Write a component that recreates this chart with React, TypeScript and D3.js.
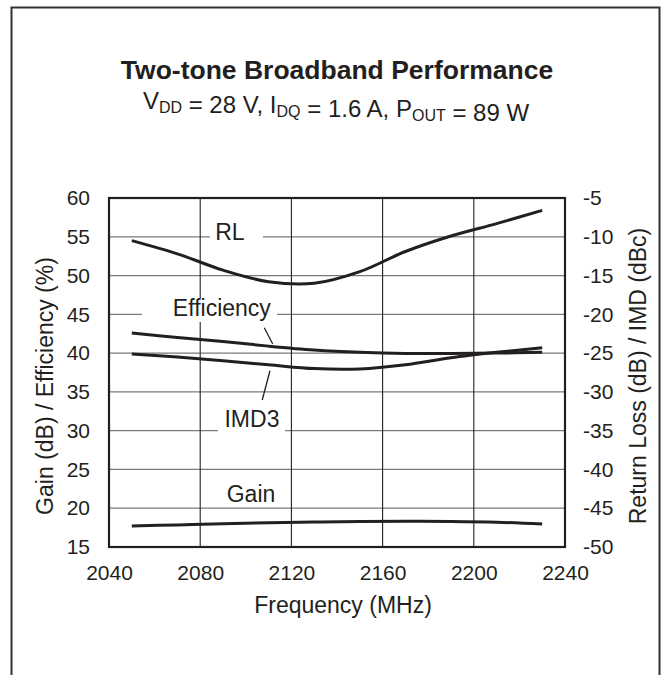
import React, { useEffect, useRef } from 'react';
import * as d3 from 'd3';

// Frequency points (MHz) shared by all curves
const freqs = [2050, 2070, 2090, 2110, 2130, 2150, 2170, 2190, 2210, 2230];

// Left axis series
const gain = [17.7, 17.85, 18.0, 18.12, 18.22, 18.3, 18.32, 18.3, 18.2, 17.95];
const efficiency = [42.6, 42.0, 41.5, 40.9, 40.4, 40.1, 39.95, 39.95, 40.0, 40.1];

// Right axis series
const returnLoss = [-10.5, -12.2, -14.3, -15.8, -16.0, -14.5, -11.9, -9.9, -8.3, -6.6];
const imd3 = [-25.1, -25.5, -26.0, -26.5, -27.0, -27.05, -26.5, -25.6, -24.9, -24.3];

const xTicks = [2040, 2080, 2120, 2160, 2200, 2240];
const leftTicks = [15, 20, 25, 30, 35, 40, 45, 50, 55, 60];
const rightTicks = [-50, -45, -40, -35, -30, -25, -20, -15, -10, -5];

const FONT = '"Liberation Sans", Arial, Helvetica, sans-serif';

export default function App() {
  const svgRef = useRef<SVGSVGElement>(null);

  useEffect(() => {
    if (!svgRef.current) return;
    const svg = d3.select(svgRef.current);
    svg.selectAll('*').remove();

    const width = 664;
    const height = 675;
    const plot = { left: 109, right: 565, top: 198, bottom: 547 };

    const x = d3.scaleLinear().domain([2040, 2240]).range([plot.left, plot.right]);
    const yL = d3.scaleLinear().domain([15, 60]).range([plot.bottom, plot.top]);
    const yR = d3.scaleLinear().domain([-50, -5]).range([plot.bottom, plot.top]);

    svg.append('rect').attr('width', width).attr('height', height).attr('fill', '#fff');

    // outer frame (open at the bottom)
    svg.append('path')
      .attr('d', `M11.5,${height + 2} V7.5 H659.5 V${height + 2}`)
      .attr('fill', 'none')
      .attr('stroke', '#333')
      .attr('stroke-width', 2);

    // Title
    svg.append('text')
      .attr('x', 337).attr('y', 79)
      .attr('text-anchor', 'middle')
      .style('font-family', FONT)
      .style('font-size', '26.5px')
      .style('font-weight', 'bold')
      .attr('fill', '#231f20')
      .text('Two-tone Broadband Performance');

    const sub = svg.append('text')
      .attr('x', 336).attr('y', 108.5)
      .attr('text-anchor', 'middle')
      .style('font-family', FONT)
      .style('font-size', '24px')
      .attr('fill', '#231f20');
    const parts: [string, boolean][] = [
      ['V', false], ['DD', true], [' = 28 V, I', false], ['DQ', true],
      [' = 1.6 A, P', false], ['OUT', true], [' = 89 W', false]
    ];
    parts.forEach(([t, isSub]) => {
      sub.append('tspan')
        .attr('dy', isSub ? 4 : null)
        .style('font-size', isSub ? '16px' : null)
        .text(t);
      if (isSub) sub.append('tspan').attr('dy', -4).text('');
    });

    const g = svg.append('g');

    // Grid
    g.selectAll('.hgrid')
      .data(leftTicks.filter(t => t > 15 && t < 60))
      .enter().append('line')
      .attr('x1', plot.left).attr('x2', plot.right)
      .attr('y1', d => yL(d)).attr('y2', d => yL(d))
      .attr('stroke', '#7a7a7a').attr('stroke-width', 1.2);

    g.selectAll('.vgrid')
      .data(xTicks.filter(t => t > 2040 && t < 2240))
      .enter().append('line')
      .attr('x1', d => x(d)).attr('x2', d => x(d))
      .attr('y1', plot.top).attr('y2', plot.bottom)
      .attr('stroke', '#231f20').attr('stroke-width', 1.1);

    // Label backgrounds break the grid lines
    const boxes = [
      { x0: 210, x1: 263, y0: 226, y1: 247 },
      { x0: 142, x1: 277, y0: 298, y1: 322 },
      { x0: 218, x1: 285, y0: 405, y1: 434 }
    ];
    g.selectAll('.box')
      .data(boxes)
      .enter().append('rect')
      .attr('x', d => d.x0).attr('y', d => d.y0)
      .attr('width', d => d.x1 - d.x0).attr('height', d => d.y1 - d.y0)
      .attr('fill', '#fff');

    // Curve labels (positions in data units)
    const labels = [
      { text: 'RL', f: 2093, v: 54.6 },
      { text: 'Efficiency', f: 2089.5, v: 44.8 },
      { text: 'IMD3', f: 2102.7, v: 30.5 },
      { text: 'Gain', f: 2102.3, v: 20.75 }
    ];
    g.selectAll('.lbl')
      .data(labels)
      .enter().append('text')
      .attr('x', d => x(d.f))
      .attr('y', d => yL(d.v))
      .attr('text-anchor', 'middle')
      .style('font-family', FONT)
      .style('font-size', '23px')
      .attr('fill', '#231f20')
      .text(d => d.text);

    // Leader lines
    const leaders = [
      [[2108.1, 43.27], [2111.8, 41.17]],
      [[2110.6, 37.73], [2107.2, 33.95]]
    ];
    g.selectAll('.leader')
      .data(leaders)
      .enter().append('line')
      .attr('x1', d => x(d[0][0])).attr('y1', d => yL(d[0][1]))
      .attr('x2', d => x(d[1][0])).attr('y2', d => yL(d[1][1]))
      .attr('stroke', '#231f20').attr('stroke-width', 1.3);

    // Curves
    const lineL = d3.line<number>()
      .x((_, i) => x(freqs[i]))
      .y(d => yL(d))
      .curve(d3.curveCatmullRom);
    const lineR = d3.line<number>()
      .x((_, i) => x(freqs[i]))
      .y(d => yR(d))
      .curve(d3.curveCatmullRom);

    [
      { data: returnLoss, line: lineR },
      { data: efficiency, line: lineL },
      { data: imd3, line: lineR },
      { data: gain, line: lineL }
    ].forEach(s => {
      g.append('path')
        .datum(s.data)
        .attr('fill', 'none')
        .attr('stroke', '#231f20')
        .attr('stroke-width', 3)
        .attr('d', s.line);
    });

    // Plot frame
    g.append('rect')
      .attr('x', plot.left).attr('y', plot.top)
      .attr('width', plot.right - plot.left).attr('height', plot.bottom - plot.top)
      .attr('fill', 'none')
      .attr('stroke', '#231f20')
      .attr('stroke-width', 2.2);

    // Axes
    const styleAxis = (sel: d3.Selection<SVGGElement, unknown, null, undefined>) => {
      sel.select('.domain').remove();
      sel.selectAll('line').remove();
      sel.selectAll('text')
        .style('font-family', FONT)
        .style('font-size', '21px')
        .attr('fill', '#231f20');
    };

    svg.append('g')
      .attr('transform', `translate(0,${plot.bottom})`)
      .call(d3.axisBottom(x).tickValues(xTicks).tickSize(0).tickPadding(18).tickFormat(d3.format('d')))
      .call(styleAxis);

    svg.append('g')
      .attr('transform', `translate(${plot.left},0)`)
      .call(d3.axisLeft(yL).tickValues(leftTicks).tickSize(0).tickPadding(19).tickFormat(d3.format('d')))
      .call(styleAxis);

    svg.append('g')
      .attr('transform', `translate(${plot.right},0)`)
      .call(d3.axisRight(yR).tickValues(rightTicks).tickSize(0).tickPadding(18).tickFormat(d => `${d}`))
      .call(styleAxis);

    // Axis titles
    svg.append('text')
      .attr('x', 343).attr('y', 613)
      .attr('text-anchor', 'middle')
      .style('font-family', FONT)
      .style('font-size', '23px')
      .attr('fill', '#231f20')
      .text('Frequency (MHz)');

    svg.append('text')
      .attr('transform', 'translate(53,386) rotate(-90)')
      .attr('text-anchor', 'middle')
      .style('font-family', FONT)
      .style('font-size', '23px')
      .attr('fill', '#231f20')
      .text('Gain (dB) / Efficiency (%)');

    svg.append('text')
      .attr('transform', 'translate(646,376) rotate(-90)')
      .attr('text-anchor', 'middle')
      .style('font-family', FONT)
      .style('font-size', '23px')
      .attr('fill', '#231f20')
      .text('Return Loss (dB) / IMD (dBc)');
  }, []);

  return (
    <svg
      ref={svgRef}
      width={664}
      height={675}
      style={{ position: 'absolute', left: 0, top: 0, display: 'block' }}
    />
  );
}
